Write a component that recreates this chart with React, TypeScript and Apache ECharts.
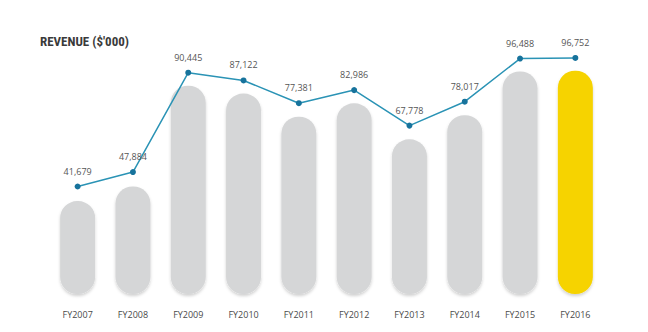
import React, { useEffect, useRef } from "react";
import * as echarts from "echarts";

const categories = ["FY2007", "FY2008", "FY2009", "FY2010", "FY2011", "FY2012", "FY2013", "FY2014", "FY2015", "FY2016"];
const revenue = [41679, 47884, 90445, 87122, 77381, 82986, 67778, 78017, 96488, 96752];
const title = "REVENUE ($'000)";

export default function App() {
  const ref = useRef<HTMLDivElement>(null);
  useEffect(() => {
    if (!ref.current) return;
    const chart = echarts.init(ref.current, null, { renderer: "svg" });
    const last = revenue.length - 1;
    chart.setOption({
      animation: false,
      backgroundColor: "#ffffff",
      title: {
        text: title,
        left: 35,
        top: 30,
        textStyle: {
          fontFamily: "'Liberation Sans Narrow', 'Roboto Condensed', 'Arial Narrow', sans-serif",
          fontWeight: "bold",
          fontSize: 13,
          color: "#3a3a3a",
        },
      },
      grid: { left: 50, right: 45, top: 39, bottom: 38 },
      xAxis: {
        type: "category",
        data: categories,
        axisLine: { show: false },
        axisTick: { show: false },
        axisLabel: {
          margin: 16,
          fontSize: 9,
          color: "#4a4a4a",
          fontFamily: "'Open Sans', sans-serif",
        },
      },
      yAxis: [
        { type: "value", min: 2400, max: 110200, show: false, splitLine: { show: false } },
        { type: "value", min: -4370, max: 104880, show: false, splitLine: { show: false } },
      ],
      series: [
        {
          type: "bar",
          yAxisIndex: 0,
          barWidth: 35,
          data: revenue.map((v, i) => ({
            value: v,
            itemStyle: {
              color: i === last ? "#f6d300" : "#d5d6d7",
            },
          })),
          itemStyle: {
            borderRadius: 17,
            shadowColor: "rgba(0,0,0,0.18)",
            shadowBlur: 3,
            shadowOffsetY: 2,
          },
          silent: true,
        },
        {
          type: "line",
          yAxisIndex: 1,
          data: revenue,
          symbol: "circle",
          symbolSize: 6,
          lineStyle: { color: "#2a93b5", width: 1.5 },
          itemStyle: { color: "#17739c" },
          label: {
            show: true,
            position: "top",
            distance: 8,
            fontSize: 9,
            color: "#555555",
            fontFamily: "'Open Sans', sans-serif",
            formatter: (p: any) => p.value.toLocaleString("en-US"),
          },
        },
      ],
    });
    return () => chart.dispose();
  }, []);
  return (
    <div
      ref={ref}
      style={{ position: "fixed", left: 0, top: 0, width: 648, height: 332 }}
    />
  );
}
